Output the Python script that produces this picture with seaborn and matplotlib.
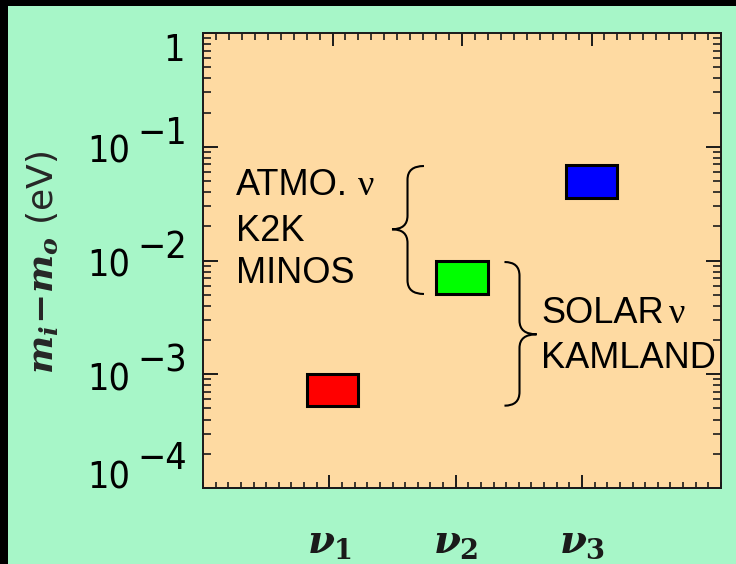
import numpy as np
import pandas as pd
import matplotlib
matplotlib.use("Agg")
import matplotlib.pyplot as plt
import seaborn as sns
from matplotlib.patches import Rectangle, PathPatch
from matplotlib.path import Path
from matplotlib.ticker import MultipleLocator, LogLocator, NullFormatter, FixedLocator

# Mass eigenstates and the allowed band of m_i - m_0 for each (eV)
state_pos = [1, 2, 3]
state_labels = [r"$\nu_1$", r"$\nu_2$", r"$\nu_3$"]
mass_low = [5.3e-4, 5.1e-3, 3.55e-2]
mass_high = [1.0e-3, 9.8e-3, 6.9e-2]
box_colors = ["#ff0000", "#00ff00", "#0000ff"]

# Decade labels on the mass axis
ytick_values = [1e-4, 1e-3, 1e-2, 1e-1, 1.0]
ytick_exponents = ["\u22124", "\u22123", "\u22122", "\u22121", None]

atmo_lines = ["ATMO.", "K2K", "MINOS"]
solar_lines = ["SOLAR", "KAMLAND"]

BG = "#a7f6c8"
PANEL = "#fedaa2"
INK = "#1a1a1a"

sns.set_style("ticks")
plt.rcParams.update({
    "mathtext.fontset": "custom",
    "mathtext.it": "DejaVu Serif:italic:bold",
    "mathtext.rm": "DejaVu Serif:bold",
    "mathtext.bf": "DejaVu Serif:bold",
    "axes.edgecolor": INK,
    "xtick.color": INK,
    "ytick.color": INK,
})
plt.rcParams["font.family"] = ["DejaVu Sans"]

df = pd.DataFrame({
    "pos": state_pos,
    "low": mass_low,
    "high": mass_high,
    "color": box_colors,
})
df["span"] = df["high"] - df["low"]

fig = plt.figure(figsize=(7.36, 5.64), dpi=100)
fig.patch.set_facecolor(BG)
fig.add_artist(Rectangle((0, 1 - 6 / 564), 1, 6 / 564, transform=fig.transFigure,
                         facecolor="black", edgecolor="none"))
fig.add_artist(Rectangle((0, 0), 8 / 736, 1, transform=fig.transFigure,
                         facecolor="black", edgecolor="none"))

ax = fig.add_axes([0.27582, 0.13475, 0.70380, 0.80674])
ax.set_facecolor(PANEL)
ax.set_yscale("log")

for _, row in df.iterrows():
    sns.barplot(x=[row["pos"]], y=[row["span"]], bottom=row["low"],
                native_scale=True, width=0.4, color=row["color"], saturation=1,
                errorbar=None, edgecolor="black", linewidth=2.2, ax=ax)

ax.set_xlim(0, 4)
ax.set_ylim(1e-4, 1)
ax.set_xlabel("")
ax.set_ylabel("")

for sp in ax.spines.values():
    sp.set_linewidth(1.4)
    sp.set_visible(True)

# top axis: the frame carrying the box positions
ax.xaxis.set_major_locator(FixedLocator(state_pos))
ax.xaxis.set_minor_locator(MultipleLocator(0.1))
ax.tick_params(axis="x", which="both", direction="in", top=True, bottom=False,
               labeltop=False, labelbottom=False)
ax.tick_params(axis="x", which="major", length=9.4, width=1.4)
ax.tick_params(axis="x", which="minor", length=5.0, width=1.2)

ax.yaxis.set_major_locator(LogLocator(base=10))
ax.yaxis.set_minor_locator(LogLocator(base=10, subs=np.arange(2, 10)))
ax.yaxis.set_minor_formatter(NullFormatter())
ax.tick_params(axis="y", which="both", direction="in", left=True, right=True,
               labelleft=False, labelright=False)
ax.tick_params(axis="y", which="major", length=10.8, width=1.4)
ax.tick_params(axis="y", which="minor", length=5.8, width=1.2)

# bottom axis with the eigenstate labels
sec = ax.secondary_xaxis("bottom", functions=(lambda v: v * 4.1 / 4.0,
                                               lambda v: v * 4.0 / 4.1))
sec.set_xticks(state_pos, labels=state_labels)
sec.xaxis.set_minor_locator(MultipleLocator(0.1))
sec.tick_params(axis="x", which="both", direction="in")
sec.tick_params(axis="x", which="major", length=9.4, width=1.4, pad=25, labelsize=28)
sec.tick_params(axis="x", which="minor", length=4.3, width=1.2)
sec.spines["bottom"].set_linewidth(1.4)

# decade labels drawn as base + raised exponent of equal size
tick_font = dict(family="DejaVu Sans", fontstretch="condensed", fontsize=27, color="black")
label_shift = [0, -16, -16, -16, -28]
for val, exp_txt, shift in zip(ytick_values, ytick_exponents, label_shift):
    common = dict(xy=(0, val), xycoords=("axes fraction", "data"),
                  textcoords="offset pixels", va="baseline", annotation_clip=False)
    if exp_txt is None:
        ax.annotate("1", xytext=(-18, shift), ha="right", **common, **tick_font)
    else:
        ax.annotate("10", xytext=(-73, shift), ha="right", **common, **tick_font)
        ax.annotate(exp_txt, xytext=(-66, shift + 19), ha="left", **common, **tick_font)

ax.set_ylabel(r"$m_i\!-\!m_o$ (eV)", fontsize=26, family="DejaVu Sans")
ax.yaxis.set_label_coords(-0.276, 0.4956)


def brace(x_end, x_spine, x_tip, y_top, y_mid, y_bot, r):
    verts = [(x_end, y_top), (x_spine, y_top), (x_spine, y_top - r),
             (x_spine, y_mid + r), (x_spine, y_mid), (x_tip, y_mid),
             (x_spine, y_mid), (x_spine, y_mid - r),
             (x_spine, y_bot + r), (x_spine, y_bot), (x_end, y_bot)]
    codes = [Path.MOVETO, Path.CURVE3, Path.CURVE3, Path.LINETO,
             Path.CURVE3, Path.CURVE3, Path.CURVE3, Path.CURVE3,
             Path.LINETO, Path.CURVE3, Path.CURVE3]
    ax.add_patch(PathPatch(Path(verts, codes), fill=False, lw=1.5,
                           edgecolor="black", transform=ax.transAxes, clip_on=False))


brace(0.4266, 0.3948, 0.3649, 0.7077, 0.5686, 0.4264, 0.03)
brace(0.582, 0.611, 0.644, 0.4967, 0.3378, 0.1809, 0.03)

note_font = dict(fontsize=26, family="Liberation Sans", color="black",
                 va="baseline", ha="left", transform=ax.transAxes)
nu_font = dict(note_font, family="Liberation Serif")
for txt, fy in zip(atmo_lines, [0.644, 0.5435, 0.4512]):
    ax.text(0.0637, fy, txt, **note_font)
ax.text(0.299, 0.644, "\u03bd", **nu_font)
for txt, fy in zip(solar_lines, [0.3626, 0.2637]):
    ax.text(0.6525, fy, txt, **note_font)
ax.text(0.8996, 0.3626, "\u03bd", **nu_font)

fig.savefig("out.png", dpi=100, facecolor=fig.get_facecolor())
